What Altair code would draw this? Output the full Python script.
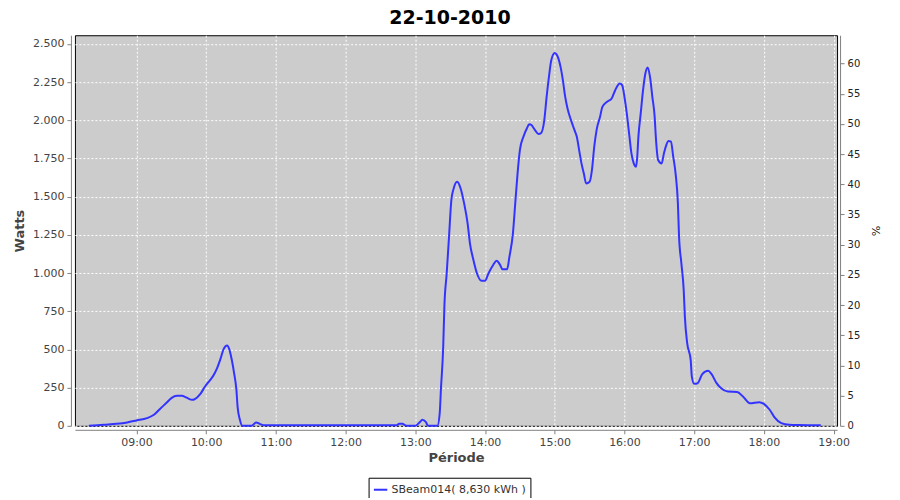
import altair as alt
import pandas as pd

DAY = "2010-10-22"

times = [
    "08:19", "08:32", "08:43", "08:52", "09:00", "09:09", "09:15", "09:20", "09:26", "09:30",
    "09:35", "09:39", "09:43", "09:48", "09:50", "09:55", "09:59", "10:03", "10:06", "10:09",
    "10:12", "10:15", "10:18", "10:20", "10:22", "10:24", "10:26", "10:27", "10:29", "10:31",
    "10:39", "10:43", "10:46", "10:50", "11:00", "11:30", "12:00", "12:30", "12:44", "12:46",
    "12:49", "12:51", "12:53", "13:00", "13:04", "13:06", "13:09", "13:11", "13:19", "13:21",
    "13:22", "13:24", "13:25", "13:27", "13:29", "13:31", "13:33", "13:36", "13:39", "13:42",
    "13:45", "13:47", "13:50", "13:53", "13:57", "14:00", "14:03", "14:07", "14:10", "14:13",
    "14:15", "14:19", "14:21", "14:24", "14:26", "14:28", "14:30", "14:33", "14:36", "14:38",
    "14:40", "14:43", "14:46", "14:48", "14:51", "14:53", "14:55", "14:57", "15:00", "15:02",
    "15:05", "15:07", "15:09", "15:11", "15:14", "15:17", "15:19", "15:21", "15:23", "15:25",
    "15:27", "15:30", "15:32", "15:34", "15:36", "15:39", "15:41", "15:45", "15:49", "15:52",
    "15:56", "15:58", "16:00", "16:02", "16:04", "16:06", "16:08", "16:10", "16:11", "16:12",
    "16:14", "16:16", "16:18", "16:20", "16:22", "16:24", "16:26", "16:27", "16:29", "16:32",
    "16:34", "16:36", "16:38", "16:40", "16:42", "16:44", "16:46", "16:47", "16:49", "16:51",
    "16:52", "16:54", "16:57", "16:58", "17:00", "17:03", "17:07", "17:12", "17:15", "17:19",
    "17:23", "17:29", "17:37", "17:42", "17:48", "17:56", "18:00", "18:05", "18:09", "18:15",
    "18:22", "18:30", "18:49",
]
watts = [
    0, 7, 13, 22, 35, 50, 72, 109, 152, 181,
    196, 196, 185, 170, 174, 209, 257, 296, 327, 371,
    432, 502, 525, 497, 432, 345, 235, 126, 39, 0,
    0, 22, 13, 3, 4, 4, 4, 4, 4, 13,
    13, 4, 0, 0, 25, 39, 25, 0, 0, 83,
    235, 519, 780, 999, 1238, 1478, 1554, 1598, 1554, 1456,
    1326, 1195, 1086, 999, 950, 950, 999, 1053, 1081, 1053,
    1025, 1025, 1107, 1260, 1456, 1653, 1805, 1892, 1947, 1975,
    1969, 1936, 1910, 1914, 2001, 2154, 2284, 2394, 2441, 2426,
    2350, 2263, 2154, 2078, 2001, 1936, 1892, 1805, 1718, 1653,
    1587, 1598, 1674, 1827, 1936, 2023, 2088, 2121, 2143, 2197,
    2241, 2230, 2154, 2045, 1914, 1784, 1718, 1696, 1761, 1892,
    2045, 2197, 2307, 2346, 2284, 2154, 2023, 1892, 1740, 1718,
    1784, 1838, 1864, 1860, 1761, 1653, 1456, 1238, 1064, 889,
    715, 541, 432, 322, 275, 279, 338, 360, 338, 283,
    247, 224, 222, 192, 148, 155, 144, 105, 57, 18,
    7, 5, 3,
]
series_name = "SBeam014( 8,630 kWh )"

watt_ticks = [0, 250, 500, 750, 1000, 1250, 1500, 1750, 2000, 2250, 2500]
pct_ticks = [0, 5, 10, 15, 20, 25, 30, 35, 40, 45, 50, 55, 60]
hour_ticks = [9, 10, 11, 12, 13, 14, 15, 16, 17, 18, 19]

df = pd.DataFrame({
    "t": [f"{DAY}T{t}:00" for t in times],
    "w": watts,
    "s": [series_name] * len(times),
})
pct_df = pd.DataFrame({"p": pct_ticks})

FONT = "DejaVu Sans"

x_domain = [
    alt.DateTime(year=2010, month=10, date=22, hours=8, minutes=7),
    alt.DateTime(year=2010, month=10, date=22, hours=19, minutes=3),
]
x_values = [alt.DateTime(year=2010, month=10, date=22, hours=h) for h in hour_ticks]

x_enc = alt.X(
    "t:T",
    title="Période",
    scale=alt.Scale(domain=x_domain),
    axis=alt.Axis(
        values=x_values, format="%H:%M", grid=True, gridColor="white",
        gridDash=[2, 2], gridWidth=1, offset=4, tickSize=4, domainColor="#808080",
        tickColor="#808080", labelColor="#444444", labelFont=FONT, labelFontSize=11,
        labelPadding=3, titleFont=FONT, titleFontSize=13, titleFontWeight="bold",
        titleColor="#444444", titlePadding=4, labelFlush=False,
    ),
)

line = alt.Chart(df).mark_line(strokeWidth=2, interpolate="monotone").encode(
    x=x_enc,
    y=alt.Y(
        "w:Q",
        title="Watts",
        scale=alt.Scale(domain=[0, 2557], nice=False, zero=True),
        axis=alt.Axis(
            values=watt_ticks, labelExpr="replace(format(datum.value, ',d'), ',', '.')",
            grid=True, gridColor="white", gridDash=[2, 2], gridWidth=1, offset=4,
            tickSize=4, domainColor="#808080", tickColor="#808080",
            labelColor="#444444", labelFont=FONT, labelFontSize=11, labelPadding=3,
            titleFont=FONT, titleFontSize=13, titleFontWeight="bold",
            titleColor="#444444", titlePadding=6,
        ),
    ),
    color=alt.Color(
        "s:N",
        scale=alt.Scale(range=["#3333ff"]),
        legend=alt.Legend(
            title=None, orient="none", legendX=294, legendY=443,
            strokeColor="black", padding=4, symbolType="stroke",
            symbolStrokeWidth=2, symbolSize=180, labelFont=FONT, labelFontSize=11,
            labelColor="#333333", fillColor="white", labelOffset=3,
        ),
    ),
)

pct = alt.Chart(pct_df).mark_point(opacity=0).encode(
    y=alt.Y(
        "p:Q",
        title="%",
        scale=alt.Scale(domain=[0, 64.7], nice=False, zero=True),
        axis=alt.Axis(
            orient="right", values=pct_ticks, grid=False, offset=3, tickSize=4,
            domainColor="#808080", tickColor="#808080", labelColor="#222222",
            labelFont=FONT, labelFontSize=10, labelPadding=3, titleFont=FONT,
            titleFontSize=11, titleFontWeight="normal", titleColor="#222222",
            titlePadding=10,
        ),
    ),
)

chart = alt.layer(line, pct).resolve_scale(y="independent").properties(
    width=763,
    height=391,
    autosize="none",
    padding={"left": 67, "top": 27, "right": 55, "bottom": 72},
    title=alt.TitleParams(
        "22-10-2010", anchor="middle", frame="group", font=FONT, fontSize=19,
        fontWeight="bold", color="black", dx=-6, offset=7,
    ),
    background="white",
).configure_view(
    fill="#cccccc", stroke="black", strokeWidth=1,
)

chart.save("out.html", embed_options={"renderer": "svg", "actions": False})
